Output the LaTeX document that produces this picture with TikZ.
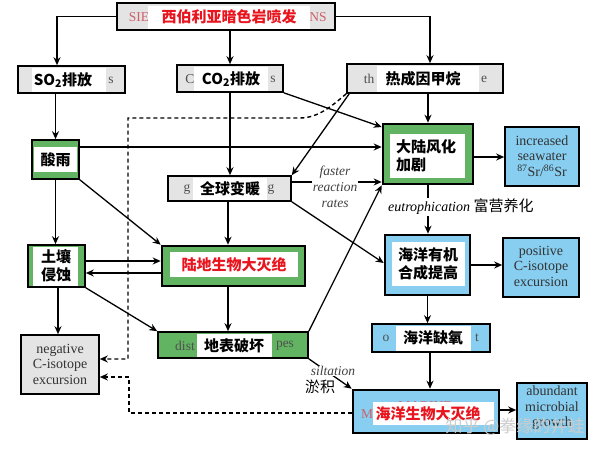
\documentclass[tikz,border=0pt]{standalone}
\usepackage{fontspec}
\setmainfont{Liberation Serif}
\newfontfamily\cjk{Noto Sans CJK SC}
\usetikzlibrary{arrows.meta}
\definecolor{gfill}{RGB}{228,228,228}
\definecolor{grn}{RGB}{98,180,98}
\definecolor{blu}{RGB}{135,206,240}
\definecolor{redt}{RGB}{232,20,30}
\definecolor{fragc}{RGB}{80,80,80}
\definecolor{fragred}{RGB}{205,95,105}
\tikzset{
  box/.style={draw=black, line width=1.6pt, inner sep=0pt, rectangle},
  thickbox/.style={box, line width=2.6pt},
  zh/.style={font=\cjk\bfseries\fontsize{15}{18}\selectfont, align=center, inner sep=0pt},
  en/.style={font=\fontsize{14}{15.5}\selectfont, text=black!80, align=center, inner sep=0pt},
  frag/.style={font=\fontsize{13.5}{15}\selectfont, text=fragc, inner sep=0pt},
  ital/.style={font=\itshape\fontsize{13.5}{16}\selectfont, text=black!75, align=center, inner sep=1pt},
  conn/.style={line width=1.3pt, -{Stealth[length=8pt,width=7pt]}},
  plain/.style={line width=1.3pt},
  dsh/.style={line width=1.4pt, dash pattern=on 4pt off 3pt, -{Stealth[length=8pt,width=7pt]}},
  patch/.style={fill=white}
}
\begin{document}
\begin{tikzpicture}[x=1pt,y=-1pt]
\useasboundingbox (0,0) rectangle (600,449);
\fill[white] (0,0) rectangle (600,449);

% ---------- boxes ----------
\node[box, fill=gfill, minimum width=218, minimum height=27] (top) at (226,16.5) {};
\node[box, fill=gfill, minimum width=107, minimum height=27] (so2) at (71.5,79.5) {};
\node[box, fill=gfill, minimum width=106, minimum height=27] (co2) at (230,78.5) {};
\node[box, fill=gfill, minimum width=156, minimum height=29] (thermo) at (425,78.5) {};
\node[box, fill=grn, minimum width=47, minimum height=39] (acid) at (55.5,159.5) {};
\node[thickbox, fill=grn, minimum width=90, minimum height=60] (weath) at (428,154) {};
\node[box, fill=blu, minimum width=74, minimum height=59] (sr) at (542,156.5) {};
\node[box, fill=gfill, minimum width=123, minimum height=25] (gw) at (229.5,188.5) {};
\node[box, fill=grn, minimum width=57, minimum height=42] (soil) at (56.5,266) {};
\node[thickbox, fill=grn, minimum width=143, minimum height=40] (terr) at (233.5,266) {};
\node[box, fill=grn, minimum width=150, minimum height=26] (land) at (233,345) {};
\node[thickbox, fill=blu, minimum width=85, minimum height=60] (prod) at (427.5,265) {};
\node[box, fill=blu, minimum width=76, minimum height=59] (pos) at (541,267.5) {};
\node[box, fill=blu, minimum width=118, minimum height=28] (anox) at (431,338) {};
\node[thickbox, fill=blu, minimum width=146, minimum height=43] (marine) at (426,411.5) {};
\node[box, fill=blu, minimum width=70, minimum height=56] (abund) at (552,411) {};
\node[box, fill=gfill, minimum width=78, minimum height=59] (neg) at (60,364.5) {};

% ---------- leftover English fragments ----------
\node[frag, text=fragred] (f1) at (139,17) {SIE};
\node[frag, text=fragred] (f2) at (318,17) {NS};
\node[frag] (f3) at (111,80) {s};
\node[frag] (f4) at (190,79) {C};
\node[frag] (f5) at (273,79) {s};
\node[frag] (f6) at (369,79) {th};
\node[frag] (f7) at (484,79) {e};
\node[frag] (f8) at (187,189) {g};
\node[frag] (f9) at (271,189) {g};
\node[frag] (f10) at (185,346) {dist};
\node[frag] (f11) at (285,346) {pes};
\node[frag] (f12) at (386,338) {o};
\node[frag] (f13) at (477,338) {t};
\node[frag, text=fragred] (f14) at (425,406) {MARINE};
\node[frag, text=fragred] (f15) at (367,414) {M};

% ---------- white patches ----------
\fill[patch] (148,6) rectangle (310,29);
\fill[patch] (32,68) rectangle (106,92);
\fill[patch] (194,67) rectangle (268,91);
\fill[patch] (377,66) rectangle (479,92);
\fill[patch] (34,147) rectangle (77,172);
\fill[patch] (390,134) rectangle (465,178);
\fill[patch] (193,178) rectangle (267,200);
\fill[patch] (33,247) rectangle (78,286);
\fill[patch] (170,252) rectangle (298,277);
\fill[patch] (197,334) rectangle (272,357);
\fill[patch] (392,242) rectangle (465,286);
\fill[patch] (396,326) rectangle (471,351);
\fill[patch] (373,402) rectangle (494,425);

% ---------- labels ----------
\node[zh, text=redt] (ttop) at (229,17) {西伯利亚暗色岩喷发};
\node[zh] (tso2) at (63,80) {SO\textsubscript{2}排放};
\node[zh] (tco2) at (231,79) {CO\textsubscript{2}排放};
\node[zh] (tthermo) at (423,79) {热成因甲烷};
\node[zh] (tacid) at (55.5,160) {酸雨};
\node[zh, align=left, anchor=west] (tweath) at (396,156) {大陆风化\\加剧};
\node[en] (tsr) at (542,156) {increased\\seawater\\\textsuperscript{87}Sr/\textsuperscript{86}Sr};
\node[zh] (tgw) at (230,189) {全球变暖};
\node[zh] (tsoil) at (56,266) {土壤\\侵蚀};
\node[zh, text=redt] (tterr) at (234,265) {陆地生物大灭绝};
\node[zh] (tland) at (234,346) {地表破坏};
\node[zh] (tprod) at (428,264) {海洋有机\\合成提高};
\node[en] (tpos) at (541,266) {positive\\C-isotope\\excursion};
\node[zh] (tanox) at (433,338) {海洋缺氧};
\node[zh, text=redt] (tmarine) at (428,414) {海洋生物大灭绝};
\node[en] (tabund) at (552,408) {abundant\\microbial\\growth};
\node[en] (tneg) at (60,364) {negative\\C-isotope\\excursion};

% ---------- connector labels ----------
\node[ital] (fr) at (335,187) {faster\\reaction\\rates};

% ---------- solid connectors ----------
\draw[conn] (top.west) -| (so2.north -| 57,0);
\draw[conn] (co2.north |- top.south) -- (co2.north);
\draw[conn] (top.east) -| (thermo.north -| 430,0);
\draw[conn] (acid.north |- so2.south) -- (acid.north);
\draw[conn] (acid.east |- 0,147) -- (weath.west |- 0,147);
\draw[conn] (co2.south east) -- (weath.west |- 0,127);
\draw[conn] (co2.south) -- (co2.south |- gw.north);
\draw[conn] (weath.north |- thermo.south) -- (weath.north);
\draw[conn] ([xshift=3pt]thermo.south west) -- (gw.north east);
\draw[plain] (gw.east |- 0,182) -- (fr.west |- 0,182);
\draw[conn] (fr.east |- 0,182) -- (weath.west |- 0,182);
\draw[conn] (gw.south east) -- (prod.west |- 0,263);
\draw[conn] (land.north east) -- (weath.south west);
\draw[conn] (weath.east |- 0,157) -- (sr.west |- 0,157);
\draw[conn] (weath.south) -- (weath.south |- prod.north);
\draw[conn] (prod.east) -- (pos.west |- prod.east);
\draw[conn] (prod.south) -- (prod.south |- anox.north);
\draw[conn] (anox.south -| 430,0) -- (marine.north -| 430,0);
\draw[conn] (marine.east |- 0,410) -- (abund.west |- 0,410);
\draw[conn] (land.south east) -- (marine.north west);
\draw[conn] (acid.south) -- (acid.south |- soil.north);
\draw[conn] (acid.south east) -- (terr.north west);
\draw[conn] (soil.east |- 0,261) -- (terr.west |- 0,261);
\draw[conn] (terr.west |- 0,273) -- (soil.east |- 0,273);
\draw[conn] (soil.south east) -- (land.north west);
\draw[conn] (soil.south -| 58,0) -- (neg.north -| 58,0);
\draw[conn] (terr.south -| 228,0) -- (land.north -| 228,0);
\draw[conn] (gw.south -| 228,0) -- (terr.north -| 228,0);

% ---------- dashed connectors ----------
\draw[dsh] (thermo.south west) .. controls (332,106) and (318,118) .. (300,118) -- (128,118) -- (128,359) -- (neg.east |- 0,359);
\draw[dsh] (marine.west |- 0,413) -- (129,413) -- (129,377) -- (neg.east |- 0,377);

% ---------- labels over connectors ----------
\node[fill=white, inner sep=1pt, anchor=west] (eu) at (387,207) {\itshape\fontsize{14}{15}\selectfont eutrophication {\cjk\upshape\fontsize{15}{16}\selectfont 富营养化}};
\node[ital, fill=white, inner sep=0.5pt] (si) at (333,371) {siltation};
\node[font=\cjk\fontsize{15}{16}\selectfont, inner sep=0pt] (yj) at (320,387) {淤积};

% ---------- watermark ----------
\node[font=\cjk\fontsize{17}{17}\selectfont, text=gray!40, inner sep=0pt] (wm) at (515,427) {知乎 @拳缘的井蛙};
\end{tikzpicture}
\end{document}
